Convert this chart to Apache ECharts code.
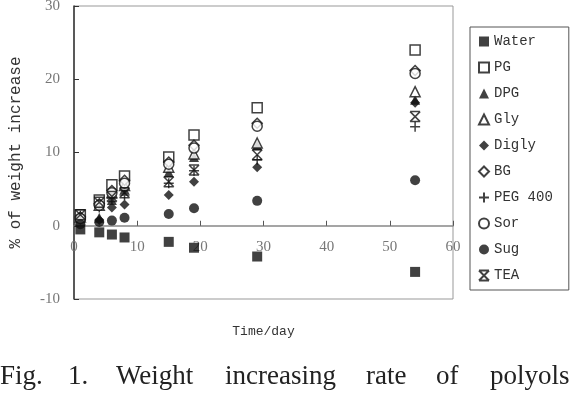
<!DOCTYPE html>
<html>
<head>
<meta charset="utf-8">
<script src="https://cdn.jsdelivr.net/npm/echarts@6/dist/echarts.min.js"></script>
<style>
  html, body { margin: 0; padding: 0; background: #fff; }
  #chart { width: 576px; height: 400px; }
</style>
</head>
<body>
<div id="chart"></div>
<script>
// days of measurement
const days = [1, 4, 6, 8, 15, 19, 29, 54];

// % of weight increase per humectant
const water = [-0.5, -0.9, -1.2, -1.6, -2.2, -3.0, -4.2, -6.3];
const pg    = [1.5, 3.5, 5.6, 6.8, 9.4, 12.4, 16.1, 24.0];
const dpg   = [1.0, 1.1, 3.5, 5.0, 7.3, 9.4, 11.0, 17.2];
const gly   = [1.2, 2.8, 4.5, 5.5, 8.0, 9.8, 11.3, 18.3];
const digly = [0.8, 0.8, 2.5, 2.9, 4.2, 6.0, 8.0, 16.8];
const bg    = [1.2, 3.0, 4.8, 6.2, 8.7, 11.0, 14.0, 21.2];
const peg   = [1.0, 2.5, 3.8, 4.2, 5.8, 7.5, 9.0, 13.5];
const sor   = [1.0, 2.8, 4.5, 5.8, 8.4, 10.6, 13.6, 20.8];
const sug   = [0.2, 0.5, 0.7, 1.1, 1.6, 2.4, 3.4, 6.2];
const tea   = [1.5, 3.2, 4.0, 4.5, 6.0, 7.6, 9.7, 14.9];

const xTicks = [0, 10, 20, 30, 40, 50, 60];
const yTicks = [-10, 0, 10, 20, 30];

const INK = '#111';
const filled = { color: INK };
const open = { color: '#fff', borderColor: INK, borderWidth: 1.5 };
const stroke = { color: INK, borderColor: INK, borderWidth: 1.5 };

const PLUS = 'path://M5,0L5,10M0,5L10,5';
const STAR = 'path://M0,0L10,10M10,0L0,10M0,0L10,0M0,10L10,10';

const seriesDefs = [
  ['Water', water, 'rect', filled],
  ['PG', pg, 'rect', open],
  ['DPG', dpg, 'triangle', filled],
  ['Gly', gly, 'triangle', open],
  ['Digly', digly, 'diamond', filled],
  ['BG', bg, 'diamond', open],
  ['PEG 400', peg, PLUS, stroke],
  ['Sor', sor, 'circle', open],
  ['Sug', sug, 'circle', filled],
  ['TEA', tea, STAR, stroke]
];

const chart = echarts.init(document.getElementById('chart'));

const axisFont = { color: '#777', fontFamily: 'Liberation Serif', fontSize: 15 };
const monoFont = { color: '#333', fontFamily: 'Liberation Mono', fontSize: 13 };

// plot box in px; the x axis sits on y = 0
const GRID_TOP = 6, GRID_BOTTOM = 101, H = 400;
const plotH = H - GRID_TOP - GRID_BOTTOM;
const zeroOffset = plotH * (0 - yTicks[0]) / (yTicks[yTicks.length - 1] - yTicks[0]);

// justified caption, word by word
const caption = [
  ['Fig.', 0], ['1.', 68], ['Weight', 116], ['increasing', 225],
  ['rate', 366], ['of', 436], ['polyols', 490]
];

chart.setOption({
  animation: false,
  grid: {
    left: 74, right: 123, top: GRID_TOP, bottom: GRID_BOTTOM,
    outerBoundsMode: 'none',
    show: true, borderColor: '#999', borderWidth: 1
  },
  xAxis: {
    type: 'value',
    min: xTicks[0], max: xTicks[xTicks.length - 1], interval: 10,
    offset: -zeroOffset,
    name: 'Time/day',
    nameLocation: 'middle',
    nameGap: 99,
    nameTextStyle: monoFont,
    axisLine: { onZero: false, lineStyle: { color: '#888', width: 1.5 } },
    axisTick: { inside: true, length: 5, lineStyle: { color: '#555' } },
    axisLabel: Object.assign({ margin: 14 }, axisFont),
    splitLine: { show: false }
  },
  yAxis: {
    type: 'value',
    min: yTicks[0], max: yTicks[yTicks.length - 1], interval: 10,
    name: '% of weight increase',
    nameLocation: 'middle',
    nameGap: 50,
    nameTextStyle: Object.assign({}, monoFont, { fontSize: 16 }),
    axisLine: { show: true, onZero: false, lineStyle: { color: '#333', width: 1.5 } },
    axisTick: { show: true, inside: true, length: 5, lineStyle: { color: '#333' } },
    axisLabel: Object.assign({ margin: 14 }, axisFont),
    splitLine: { show: false }
  },
  legend: {
    orient: 'vertical',
    left: 470, top: 27,
    padding: [7, 16, 7, 8],
    itemWidth: 10, itemHeight: 10, itemGap: 11,
    borderColor: '#555', borderWidth: 1,
    textStyle: { color: '#333', fontFamily: 'Liberation Mono', fontSize: 14, lineHeight: 15 },
    data: seriesDefs.map(d => d[0])
  },
  graphic: caption.map(([w, x]) => ({
    type: 'text', left: x, top: 363,
    style: { text: w, fill: '#222', font: '27px "Liberation Serif"' }
  })),
  series: seriesDefs.map(([name, vals, symbol, style]) => ({
    name,
    type: 'scatter',
    symbol,
    symbolSize: 10,
    itemStyle: style,
    data: days.map((d, i) => [d, vals[i]])
  }))
});
</script>
</body>
</html>
